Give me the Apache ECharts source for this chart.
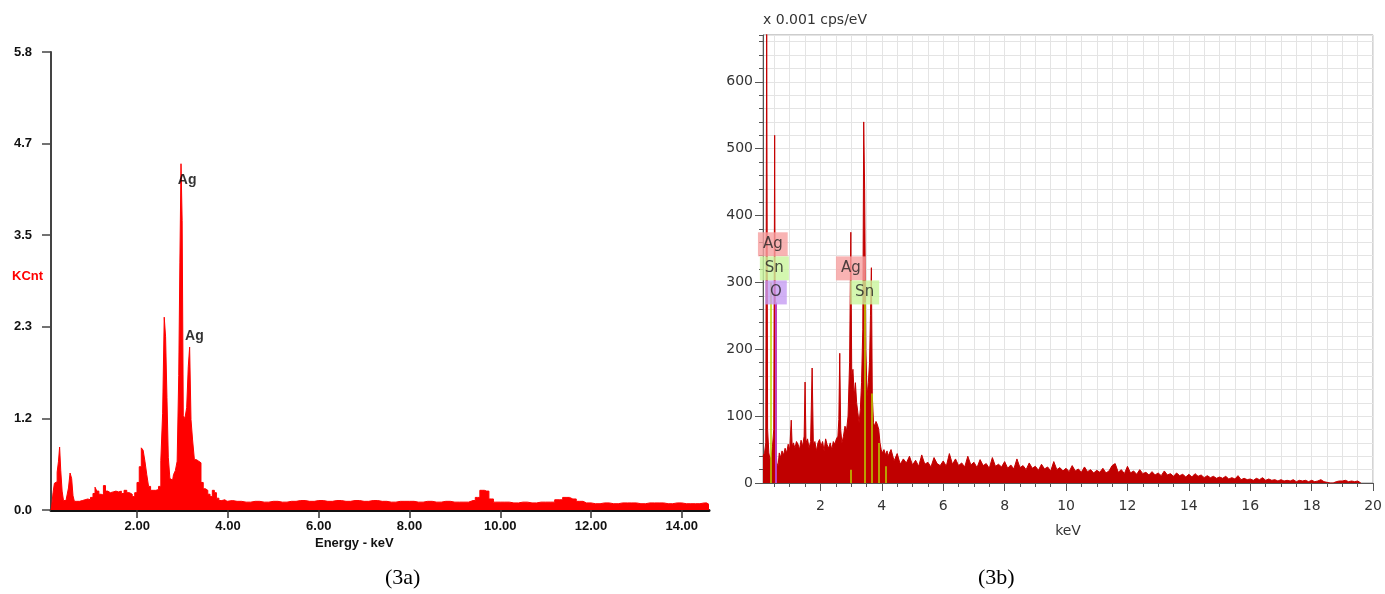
<!DOCTYPE html>
<html>
<head>
<meta charset="utf-8">
<script src="https://cdn.jsdelivr.net/npm/echarts@6/dist/echarts.min.js"></script>
<style>
  html, body { margin: 0; padding: 0; background: #fff; }
  #chart { width: 1385px; height: 594px; }
</style>
</head>
<body>
<div id="chart"></div>
<script>
// (3a) EDS spectrum, KCnt vs energy (keV)
const leftEnergy = [
  0.10, 0.13, 0.16, 0.19, 0.22, 0.25, 0.28, 0.30, 0.33, 0.36, 0.39, 0.43, 0.47, 0.50, 0.54, 0.57, 0.60, 0.63,
  0.70, 0.76, 0.82, 0.88, 0.94, 1.00, 1.05, 1.09, 1.13, 1.18, 1.23, 1.28, 1.32, 1.38, 1.44, 1.50, 1.56, 1.62,
  1.68, 1.74, 1.80, 1.86, 1.92, 1.97, 2.02, 2.07, 2.11, 2.15, 2.19, 2.23, 2.27, 2.32, 2.38, 2.44, 2.50, 2.54,
  2.58, 2.61, 2.64, 2.67, 2.70, 2.74, 2.78, 2.82, 2.86, 2.90, 2.93, 2.95, 2.98, 3.00, 3.03, 3.07, 3.11, 3.14,
  3.17, 3.20, 3.24, 3.28, 3.33, 3.38, 3.43, 3.48, 3.53, 3.58, 3.63, 3.68, 3.72, 3.77, 3.83, 3.90, 3.96,
  4.0, 4.2, 4.4, 4.6, 4.8, 5.0, 5.2, 5.4, 5.6, 5.8, 6.0, 6.2, 6.4, 6.6, 6.8, 7.0, 7.2, 7.4, 7.6, 7.8, 8.0,
  8.2, 8.4, 8.6, 8.8, 9.0, 9.2, 9.4, 9.5, 9.6, 9.7, 9.8, 9.9, 10.1, 10.3, 10.5, 10.7, 10.9, 11.1, 11.3, 11.45,
  11.6, 11.75, 11.9, 12.1, 12.3, 12.5, 12.7, 12.9, 13.1, 13.3, 13.5, 13.7, 13.9, 14.1, 14.3, 14.5, 14.6
];
const leftCounts = [
  0.00, 0.05, 0.22, 0.34, 0.36, 0.48, 0.62, 0.80, 0.50, 0.24, 0.12, 0.12, 0.14, 0.28, 0.47, 0.40, 0.18, 0.11,
  0.11, 0.12, 0.13, 0.14, 0.13, 0.16, 0.21, 0.29, 0.24, 0.20, 0.19, 0.31, 0.24, 0.22, 0.23, 0.24, 0.23, 0.24,
  0.21, 0.25, 0.22, 0.20, 0.17, 0.22, 0.35, 0.55, 0.79, 0.76, 0.62, 0.45, 0.30, 0.25, 0.25, 0.26, 0.30, 0.63,
  1.23, 2.45, 2.20, 1.43, 0.67, 0.40, 0.38, 0.45, 0.50, 0.62, 1.71, 3.15, 4.40, 3.68, 1.20, 1.16, 1.30, 1.82,
  2.07, 1.15, 0.89, 0.64, 0.62, 0.60, 0.35, 0.27, 0.25, 0.20, 0.17, 0.25, 0.22, 0.15, 0.12, 0.13, 0.11,
  0.12, 0.11, 0.10, 0.11, 0.10, 0.11, 0.10, 0.11, 0.12, 0.11, 0.12, 0.11, 0.12, 0.11, 0.12, 0.11, 0.12, 0.11, 0.10, 0.11, 0.11,
  0.10, 0.11, 0.10, 0.11, 0.10, 0.10, 0.12, 0.16, 0.25, 0.24, 0.14, 0.10, 0.10, 0.09, 0.10, 0.09, 0.10, 0.10, 0.13, 0.16,
  0.14, 0.11, 0.09, 0.08, 0.09, 0.08, 0.09, 0.09, 0.08, 0.09, 0.09, 0.08, 0.09, 0.08, 0.08, 0.09, 0.07
];
const leftXTicks = [2, 4, 6, 8, 10, 12, 14];
const leftYLabels = ['0.0', '1.2', '2.3', '3.5', '4.7', '5.8'];
const leftPeakTags = [[3.10, 4.19, 'Ag'], [3.26, 2.21, 'Ag']];

// (3b) EDS spectrum, x 0.001 cps/eV vs keV
const rightEnergy = [
  0.13, 0.18, 0.22, 0.25, 0.28, 0.32, 0.36, 0.40, 0.44, 0.48, 0.51, 0.54, 0.58, 0.62, 0.66, 0.70, 0.75, 0.80,
  0.85, 0.90, 0.95, 1.00, 1.05, 1.08, 1.12, 1.17, 1.22, 1.27, 1.32, 1.37, 1.42, 1.47, 1.50, 1.53, 1.58, 1.63,
  1.68, 1.73, 1.77, 1.82, 1.87, 1.92, 1.97, 2.02, 2.07, 2.12, 2.17, 2.22, 2.27, 2.32, 2.37, 2.42, 2.47, 2.52,
  2.57, 2.60, 2.63, 2.66, 2.70, 2.75, 2.80, 2.85, 2.90, 2.95, 2.99, 3.02, 3.06, 3.10, 3.14, 3.18, 3.22, 3.26,
  3.30, 3.34, 3.38, 3.41, 3.44, 3.48, 3.52, 3.56, 3.60, 3.63, 3.66, 3.69, 3.73, 3.77, 3.81, 3.85, 3.90, 3.94,
  3.98, 4.02, 4.07, 4.12, 4.17,
  4.2, 4.3, 4.4, 4.5, 4.6, 4.7, 4.8, 4.9,
  5.0, 5.1, 5.2, 5.3, 5.4, 5.5, 5.6, 5.7, 5.8, 5.9,
  6.0, 6.1, 6.2, 6.3, 6.4, 6.5, 6.6, 6.7, 6.8, 6.9,
  7.0, 7.1, 7.2, 7.3, 7.4, 7.5, 7.6, 7.7, 7.8, 7.9,
  8.0, 8.1, 8.2, 8.3, 8.4, 8.5, 8.6, 8.7, 8.8, 8.9,
  9.0, 9.1, 9.2, 9.3, 9.4, 9.5, 9.6, 9.7, 9.8, 9.9,
  10.0, 10.1, 10.2, 10.3, 10.4, 10.5, 10.6, 10.7, 10.8, 10.9,
  11.0, 11.1, 11.2, 11.3, 11.4, 11.5, 11.6, 11.7, 11.8, 11.9,
  12.0, 12.1, 12.2, 12.3, 12.4, 12.5, 12.6, 12.7, 12.8, 12.9,
  13.0, 13.1, 13.2, 13.3, 13.4, 13.5, 13.6, 13.7, 13.8, 13.9,
  14.0, 14.1, 14.2, 14.3, 14.4, 14.5, 14.6, 14.7, 14.8, 14.9,
  15.0, 15.1, 15.2, 15.3, 15.4, 15.5, 15.6, 15.7, 15.8, 15.9,
  16.0, 16.1, 16.2, 16.3, 16.4, 16.5, 16.6, 16.7, 16.8, 16.9,
  17.0, 17.1, 17.2, 17.3, 17.4, 17.5, 17.6, 17.7, 17.8, 17.9,
  18.0, 18.1, 18.2, 18.3, 18.4, 18.5, 18.6, 18.7, 18.8, 18.9,
  19.0, 19.1, 19.2, 19.3, 19.4, 19.5, 19.6
];
const rightCps = [
  40, 45, 60, 700, 80, 45, 35, 40, 55, 80, 520, 60, 30, 25, 45, 38, 48, 42,
  52, 45, 58, 50, 94, 55, 60, 52, 62, 58, 50, 64, 55, 70, 151, 60, 66, 52,
  62, 172, 58, 62, 48, 60, 65, 55, 62, 48, 66, 57, 52, 60, 50, 62, 58, 66,
  70, 95, 194, 80, 60, 70, 85, 78, 100, 180, 375, 160, 170, 130, 150, 120, 105, 90,
  110, 150, 230, 540, 440, 200, 130, 150, 180, 250, 322, 130, 90, 85, 92, 88, 80, 60,
  50, 45, 50, 42, 48,
  40, 50, 33, 44, 28, 36, 30, 40,
  27, 34, 25, 42, 28, 31, 24, 38, 29, 26,
  33, 25, 44, 28, 36, 26, 30, 24, 40, 27,
  31, 23, 35, 26, 29, 22, 38, 25, 28, 24,
  32, 22, 27, 21, 36, 23, 26, 20, 30, 22,
  25, 19, 28, 21, 24, 18, 32, 20, 23, 18,
  22, 17, 26, 18, 21, 16, 24, 17, 20, 15,
  19, 16, 22, 15, 18, 26, 29, 16, 20, 14,
  25, 15, 18, 13, 20, 14, 16, 12, 17, 12,
  15, 11, 18, 12, 14, 10, 15, 11, 13, 9,
  13, 9, 14, 10, 12, 8, 11, 8, 10, 7,
  9, 7, 10, 6, 8, 6, 11, 5, 7, 5,
  6, 4, 7, 5, 8, 4, 6, 4, 5, 3,
  5, 3, 4, 3, 5, 2, 4, 3, 4, 2,
  4, 2, 3, 5, 2, 1, 0, 0, 2, 3,
  3, 4, 2, 3, 2, 3, 0
];
const rightXTicks = [2, 4, 6, 8, 10, 12, 14, 16, 18, 20];
const rightYTicks = [0, 100, 200, 300, 400, 500, 600];
// element marker lines: energy, height
const snLineE = [0.38, 3.00, 3.44, 3.66, 3.90, 4.13];
const snLineH = [300, 20, 270, 134, 60, 25];
const oLineE = [0.55];
const oLineH = [270];
// element tags: energy, height, symbol
const elementTags = [
  [0.45, 357, 'Ag'], [0.50, 321, 'Sn'], [0.55, 285, 'O'],
  [2.99, 321, 'Ag'], [3.44, 285, 'Sn']
];
const tagColors = { Ag: '#f6a0a0', Sn: '#c9f59c', O: '#c69cf3' };

const minorX = [];
for (let v = 0.5; v <= 20; v += 0.5) minorX.push(v);

const zip = (a, b) => a.map((x, i) => [x, b[i]]);
const vline = (es, hs, style) => es.map((e, i) => [{ coord: [e, 0], lineStyle: style }, { coord: [e, hs[i]] }]);

const boldFont = { fontFamily: 'Liberation Sans', fontWeight: 'bold', fontSize: 13, color: '#111' };
const thinFont = { fontFamily: 'DejaVu Sans', fontSize: 14, color: '#333' };

const chart = echarts.init(document.getElementById('chart'), null, { renderer: 'canvas' });

chart.setOption({
  animation: false,
  backgroundColor: '#fff',
  grid: [
    { left: 51, top: 52, width: 658, height: 458 },
    { left: 763, top: 35, width: 619, height: 448, show: true, borderColor: '#9a9a9a', borderWidth: 1 }
  ],
  xAxis: [
    {
      type: 'value', gridIndex: 0, position: 'bottom', min: 0.1, max: 14.6,
      axisLine: { lineStyle: { color: '#111', width: 3 } },
      axisTick: { customValues: leftXTicks, length: 8, lineStyle: { color: '#333', width: 1.5 } },
      axisLabel: { customValues: leftXTicks, formatter: v => v.toFixed(2), margin: 10, ...boldFont },
      splitLine: { show: false }
    },
    {
      type: 'value', gridIndex: 1, position: 'bottom', min: 0.13, max: 20,
      axisLine: { lineStyle: { color: '#555', width: 1 } },
      axisTick: { customValues: minorX, length: 4, lineStyle: { color: '#555' } },
      axisLabel: { show: false },
      splitLine: { show: true, lineStyle: { color: '#e4e4e4', width: 1 } }
    },
    {
      type: 'value', gridIndex: 1, position: 'bottom', min: 0.13, max: 20,
      axisLine: { show: false },
      axisTick: { customValues: rightXTicks, length: 8, lineStyle: { color: '#555' } },
      axisLabel: { customValues: rightXTicks, margin: 16, ...thinFont },
      splitLine: { show: false },
      name: 'keV', nameLocation: 'middle', nameGap: 41, nameTextStyle: { ...thinFont }
    }
  ],
  yAxis: [
    {
      type: 'value', gridIndex: 0, position: 'left', min: 0, max: 5.82, interval: 1.164,
      axisLine: { show: true, lineStyle: { color: '#444', width: 2 } },
      axisTick: { show: true, length: 9, lineStyle: { color: '#444', width: 1.5 } },
      axisLabel: { formatter: v => leftYLabels[Math.round(v / 1.164)], margin: 19, ...boldFont },
      splitLine: { show: false }
    },
    {
      type: 'value', gridIndex: 1, position: 'left', min: 0, max: 670, interval: 20,
      axisLine: { show: true, lineStyle: { color: '#555', width: 1 } },
      axisTick: { show: true, length: 4, lineStyle: { color: '#555' } },
      axisLabel: { show: false },
      splitLine: { show: true, lineStyle: { color: '#e4e4e4', width: 1 } }
    },
    {
      type: 'value', gridIndex: 1, position: 'left', min: 0, max: 670,
      axisLine: { show: false },
      axisTick: { show: true, customValues: rightYTicks, length: 8, lineStyle: { color: '#555' } },
      axisLabel: { customValues: rightYTicks, margin: 10, ...thinFont },
      splitLine: { show: false },
      name: 'x 0.001 cps/eV', nameLocation: 'end', nameGap: 8,
      nameTextStyle: { ...thinFont, align: 'left' }
    }
  ],
  series: [
    {
      type: 'line', xAxisIndex: 0, yAxisIndex: 0, step: 'middle',
      data: zip(leftEnergy, leftCounts), symbol: 'none',
      lineStyle: { color: '#ff0000', width: 1 },
      areaStyle: { color: '#ff0000', opacity: 1 }
    },
    {
      type: 'scatter', xAxisIndex: 0, yAxisIndex: 0, data: leftPeakTags,
      symbolSize: 1, itemStyle: { color: 'transparent' }, z: 5,
      label: { show: true, position: 'inside', formatter: p => p.data[2], ...boldFont, fontSize: 14, color: '#000' }
    },
    {
      type: 'line', xAxisIndex: 1, yAxisIndex: 1, clip: true,
      data: zip(rightEnergy, rightCps), symbol: 'none',
      lineStyle: { color: '#c40000', width: 1 },
      areaStyle: { color: '#c00000', opacity: 1 },
      markLine: {
        silent: true, symbol: 'none', label: { show: false },
        data: vline(snLineE, snLineH, { color: '#b8d400', width: 1.5, type: 'solid' })
          .concat(vline(oLineE, oLineH, { color: '#c03cc0', width: 2, type: 'solid' }))
      }
    },
    {
      type: 'scatter', xAxisIndex: 1, yAxisIndex: 1, z: 6,
      data: elementTags.map(t => ({
        value: t,
        label: { backgroundColor: tagColors[t[2]] }
      })),
      symbolSize: 1, itemStyle: { color: 'transparent' },
      label: {
        show: true, position: 'inside', formatter: p => p.value[2],
        fontFamily: 'DejaVu Sans', fontSize: 15, color: '#222',
        padding: [5, 5, 4, 5]
      }
    }
  ],
  graphic: [
    { type: 'text', left: 12, top: 270, style: { text: 'KCnt', fill: '#ff0000', font: 'bold 13px "Liberation Sans"' } },
    { type: 'text', left: 315, top: 537, style: { text: 'Energy - keV', fill: '#111', font: 'bold 13px "Liberation Sans"' } },
    { type: 'text', left: 385, top: 567, style: { text: '(3a)', fill: '#000', font: '22px "Liberation Serif"' } },
    { type: 'text', left: 978, top: 567, style: { text: '(3b)', fill: '#000', font: '22px "Liberation Serif"' } }
  ]
});
</script>
</body>
</html>
